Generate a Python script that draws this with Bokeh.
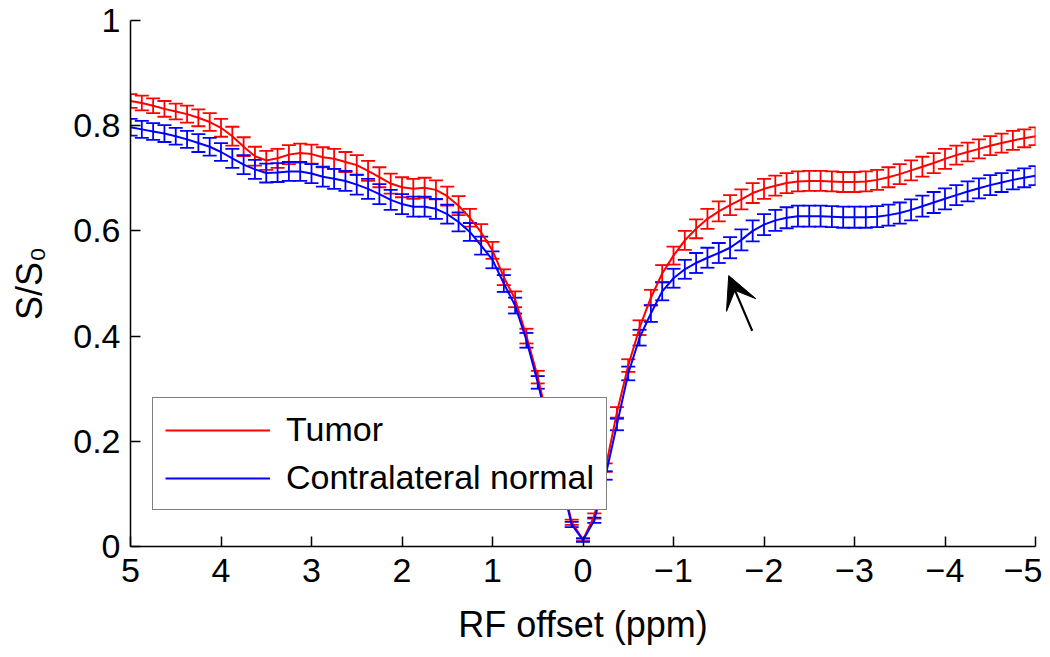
from bokeh.plotting import figure
from bokeh.models import (ColumnDataSource, Whisker, TeeHead, Range1d, FixedTicker,
                          Legend, LegendItem, Arrow, VeeHead)
from bokeh.embed import file_html
from bokeh.resources import INLINE

# RF offsets (ppm)
offset_ppm = [5.0, 4.875, 4.75, 4.625, 4.5, 4.375, 4.25, 4.125, 4.0,
              3.875, 3.75, 3.625, 3.5, 3.375, 3.25, 3.125, 3.0,
              2.875, 2.75, 2.625, 2.5, 2.375, 2.25, 2.125, 2.0,
              1.875, 1.75, 1.625, 1.5, 1.375, 1.25, 1.125, 1.0,
              0.875, 0.75, 0.625, 0.5, 0.375, 0.25, 0.125, 0.0,
              -0.125, -0.25, -0.375, -0.5, -0.625, -0.75, -0.875, -1.0,
              -1.125, -1.25, -1.375, -1.5, -1.625, -1.75, -1.875, -2.0,
              -2.125, -2.25, -2.375, -2.5, -2.625, -2.75, -2.875, -3.0,
              -3.125, -3.25, -3.375, -3.5, -3.625, -3.75, -3.875, -4.0,
              -4.125, -4.25, -4.375, -4.5, -4.625, -4.75, -4.875, -5.0]

tumor = [0.847, 0.843, 0.838, 0.832, 0.827, 0.822, 0.815, 0.807, 0.796,
         0.780, 0.760, 0.742, 0.734, 0.738, 0.745, 0.748, 0.746,
         0.740, 0.737, 0.731, 0.725, 0.714, 0.702, 0.690, 0.683,
         0.680, 0.682, 0.678, 0.666, 0.648, 0.625, 0.597, 0.563,
         0.512, 0.470, 0.400, 0.322, 0.230, 0.140, 0.046, 0.013,
         0.058, 0.150, 0.255, 0.344, 0.416, 0.473, 0.519, 0.553,
         0.582, 0.604, 0.623, 0.637, 0.649, 0.660, 0.672, 0.680,
         0.686, 0.691, 0.694, 0.695, 0.695, 0.694, 0.693, 0.693,
         0.694, 0.697, 0.702, 0.708, 0.715, 0.722, 0.729, 0.737,
         0.744, 0.750, 0.756, 0.762, 0.767, 0.772, 0.776, 0.780]

tumor_err = [0.013, 0.014, 0.014, 0.015, 0.015, 0.016, 0.016, 0.017, 0.017,
             0.018, 0.018, 0.018, 0.018, 0.018, 0.018, 0.018, 0.018,
             0.019, 0.019, 0.019, 0.019, 0.019, 0.019, 0.019, 0.019,
             0.019, 0.019, 0.018, 0.018, 0.018, 0.017, 0.016, 0.016,
             0.015, 0.015, 0.014, 0.012, 0.010, 0.008, 0.005, 0.003,
             0.005, 0.008, 0.010, 0.012, 0.014, 0.015, 0.016, 0.017,
             0.018, 0.018, 0.019, 0.019, 0.019, 0.019, 0.019, 0.019,
             0.019, 0.019, 0.019, 0.019, 0.019, 0.019, 0.019, 0.019,
             0.019, 0.019, 0.019, 0.019, 0.019, 0.019, 0.019, 0.019,
             0.018, 0.018, 0.018, 0.018, 0.018, 0.018, 0.017, 0.017]

normal = [0.797, 0.793, 0.789, 0.785, 0.780, 0.774, 0.767, 0.760, 0.750,
          0.738, 0.726, 0.717, 0.710, 0.711, 0.713, 0.713, 0.709,
          0.703, 0.699, 0.695, 0.688, 0.680, 0.670, 0.659, 0.651,
          0.646, 0.646, 0.642, 0.632, 0.617, 0.598, 0.572, 0.545,
          0.500, 0.458, 0.392, 0.312, 0.220, 0.130, 0.042, 0.012,
          0.050, 0.135, 0.232, 0.329, 0.397, 0.443, 0.485, 0.510,
          0.527, 0.539, 0.549, 0.558, 0.568, 0.583, 0.600, 0.612,
          0.620, 0.625, 0.628, 0.628, 0.628, 0.627, 0.626, 0.626,
          0.626, 0.627, 0.630, 0.634, 0.640, 0.647, 0.654, 0.661,
          0.668, 0.675, 0.681, 0.687, 0.692, 0.697, 0.701, 0.705]

normal_err = [0.016, 0.016, 0.016, 0.016, 0.016, 0.016, 0.017, 0.017, 0.017,
              0.018, 0.018, 0.018, 0.018, 0.018, 0.018, 0.018, 0.018,
              0.019, 0.019, 0.019, 0.019, 0.019, 0.019, 0.019, 0.019,
              0.019, 0.019, 0.019, 0.018, 0.018, 0.017, 0.017, 0.016,
              0.016, 0.015, 0.014, 0.012, 0.010, 0.008, 0.005, 0.003,
              0.005, 0.008, 0.011, 0.013, 0.015, 0.016, 0.017, 0.018,
              0.018, 0.019, 0.019, 0.019, 0.020, 0.020, 0.020, 0.020,
              0.020, 0.020, 0.020, 0.020, 0.020, 0.020, 0.020, 0.020,
              0.020, 0.020, 0.020, 0.020, 0.020, 0.020, 0.020, 0.020,
              0.019, 0.019, 0.019, 0.019, 0.018, 0.018, 0.018, 0.018]

x_ticks = [5, 4, 3, 2, 1, 0, -1, -2, -3, -4, -5]
x_tick_labels = ["5", "4", "3", "2", "1", "0", "\u22121", "\u22122", "\u22123", "\u22124", "\u22125"]
y_ticks = [0, 0.2, 0.4, 0.6, 0.8, 1]
y_tick_labels = ["0", "0.2", "0.4", "0.6", "0.8", "1"]

series_names = ["Tumor", "Contralateral normal"]
series_colors = ["#ff0000", "#0000ff"]

# annotation arrow (data coordinates): tail -> tip
arrow_tail = (-1.87, 0.41)
arrow_tip = (-1.61, 0.515)

FONT = "Liberation Sans"

p = figure(width=1042, height=649, output_backend="svg", toolbar_location=None,
           x_range=Range1d(5, -5), y_range=Range1d(0, 1),
           min_border_left=130, min_border_top=20, min_border_right=7,
           min_border_bottom=103)
p.outline_line_color = None
p.xgrid.visible = False
p.ygrid.visible = False
p.background_fill_color = "white"
p.border_fill_color = "white"

renderers = []
for vals, errs, color in [(tumor, tumor_err, series_colors[0]), (normal, normal_err, series_colors[1])]:
    src = ColumnDataSource(data=dict(
        x=offset_ppm, y=vals,
        upper=[v + e for v, e in zip(vals, errs)],
        lower=[v - e for v, e in zip(vals, errs)]))
    w = Whisker(source=src, base="x", upper="upper", lower="lower", dimension="height",
                line_color=color, line_width=1.8,
                upper_head=TeeHead(size=14, line_color=color, line_width=1.8),
                lower_head=TeeHead(size=14, line_color=color, line_width=1.8))
    p.add_layout(w)
    r = p.line("x", "y", source=src, line_color=color, line_width=2)
    renderers.append(r)

# arrow
p.add_layout(Arrow(end=VeeHead(size=32, fill_color="black", line_color="black"),
                   x_start=arrow_tail[0], y_start=arrow_tail[1],
                   x_end=arrow_tip[0], y_end=arrow_tip[1],
                   line_color="black", line_width=2.2))

# axes
p.xaxis.ticker = FixedTicker(ticks=x_ticks)
p.xaxis.major_label_overrides = {t: l for t, l in zip(x_ticks, x_tick_labels)}
p.yaxis.ticker = FixedTicker(ticks=y_ticks)
p.yaxis.major_label_overrides = {t: l for t, l in zip(y_ticks, y_tick_labels)}
for ax in (p.xaxis[0], p.yaxis[0]):
    ax.axis_line_color = "black"
    ax.axis_line_width = 1.5
    ax.major_tick_in = 10
    ax.major_tick_out = 0
    ax.major_tick_line_width = 1.5
    ax.major_tick_line_color = "black"
    ax.minor_tick_line_color = None
    ax.major_label_text_font = FONT
    ax.major_label_text_font_size = "34px"
    ax.major_label_text_color = "black"
    ax.axis_label_text_font = FONT
    ax.axis_label_text_font_size = "36px"
    ax.axis_label_text_font_style = "normal"
    ax.axis_label_text_color = "black"

p.xaxis.axis_label = "RF offset (ppm)"
p.xaxis.major_label_standoff = 12
p.xaxis.axis_label_standoff = 19
p.yaxis.axis_label = "S/S\u2080"
p.yaxis.major_label_standoff = 10
p.yaxis.axis_label_standoff = 20

legend = Legend(items=[LegendItem(label=series_names[0], renderers=[renderers[0]]),
                       LegendItem(label=series_names[1], renderers=[renderers[1]])],
                location=(22, 36), orientation="vertical",
                border_line_color="black", border_line_width=1.8,
                background_fill_color="white", background_fill_alpha=1.0,
                label_text_font=FONT, label_text_font_size="34px",
                label_text_color="black",
                glyph_width=105, glyph_height=30, label_height=30,
                label_standoff=16, spacing=9, padding=12, margin=0)
p.add_layout(legend)

open("out.html", "w").write(file_html(p, INLINE))
